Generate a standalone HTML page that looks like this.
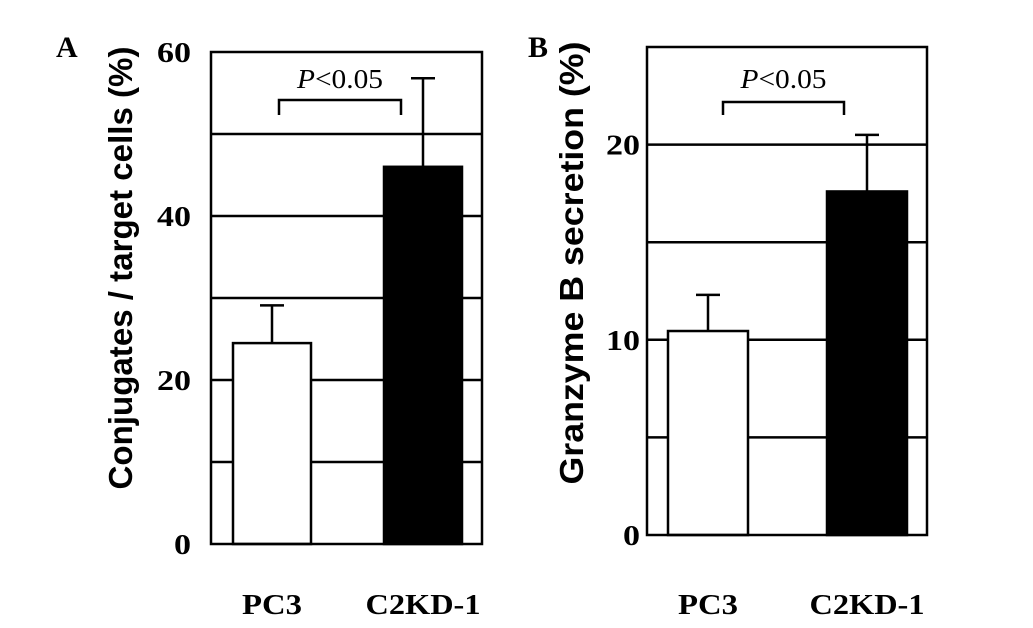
<!DOCTYPE html>
<html><head><meta charset="utf-8"><style>
html,body{margin:0;padding:0;background:#fff}
svg{display:block}
.t{font-family:"Liberation Serif",serif;font-weight:bold;font-size:28px;fill:#000}
.yt{font-family:"Liberation Sans",sans-serif;font-weight:bold;font-size:33px;fill:#000}
.p{font-family:"Liberation Serif",serif;font-size:27px;fill:#000}
</style></head><body>
<svg id="chart" width="1033" height="628" xmlns="http://www.w3.org/2000/svg"></svg>
<script>
const categories = ["PC3", "C2KD-1"];
const valuesA = [24.5, 46];
const errorsA = [4.6, 10.8];
const ticksA = [0, 20, 40, 60];
const gridA = [10, 20, 30, 40, 50];
const valuesB = [10.45, 17.6];
const errorsB = [1.85, 2.9];
const ticksB = [0, 10, 20];
const gridB = [5, 10, 15, 20];

const svg = document.getElementById('chart');
const NS = 'http://www.w3.org/2000/svg';
function mk(tag, attrs, parent){
  const e = document.createElementNS(NS, tag);
  for (const k in attrs) e.setAttribute(k, attrs[k]);
  (parent||svg).appendChild(e);
  return e;
}
function panel(cfg){
  const g = mk('g', {});
  
  
  const y = v => cfg.y0 - (v / cfg.max) * (cfg.y0 - cfg.top);
  cfg.grid.forEach(v => {
    const l = mk('line', {x1:cfg.left, x2:cfg.right, y1:y(v), y2:y(v), stroke:'#000', 'stroke-width':2.5}, g);
    
    
  });
  cfg.values.forEach((v, i) => {
    const bx = cfg.barX[i], bw = cfg.barW;
    const r = mk('rect', {x:bx, y:y(v), width:bw, height:cfg.y0 - y(v), fill: i===0?'#fff':'#000', stroke:'#000', 'stroke-width':2.5}, g);
    
    
    const cx = bx + bw/2, et = y(v + cfg.errors[i]);
    const e = mk('path', {d:`M${cx},${y(v)}V${et}M${cx-12},${et}H${cx+12}`, stroke:'#000', 'stroke-width':2.5, fill:'none'}, g);
    
    
    const t = mk('text', {x:cx, y:614, 'text-anchor':'middle', class:'t', textLength: i===0?60:115, lengthAdjust:'spacingAndGlyphs'}, g);
    t.textContent = categories[i];
    
    
  });
  const f = mk('rect', {x:cfg.left, y:cfg.top, width:cfg.right-cfg.left, height:cfg.y0-cfg.top, fill:'none', stroke:'#000', 'stroke-width':2.5}, g);
  
  
  cfg.ticks.forEach(v => {
    const s = String(v);
    const t = mk('text', {x:cfg.tickX, y:y(v) + 10, 'text-anchor':'end', class:'t', textLength: s.length*17, lengthAdjust:'spacingAndGlyphs'}, g);
    t.textContent = s;
    
    
  });
  const b = mk('path', {d:`M${cfg.br[0]},115V${cfg.br[2]}H${cfg.br[1]}V115`, stroke:'#000', 'stroke-width':2.5, fill:'none'}, g);
  
  
  const p = mk('text', {x:(cfg.br[0]+cfg.br[1])/2, y:88, 'text-anchor':'middle', class:'p', textLength:86, lengthAdjust:'spacingAndGlyphs'}, g);
  p.innerHTML = '<tspan font-style="italic">P</tspan>&lt;0.05';
  
  
  const yt = mk('text', {x:0, y:0, transform:`translate(${cfg.titleX},${cfg.titleY}) rotate(-90)`, 'text-anchor':'middle', class:'yt', textLength:443, lengthAdjust:'spacingAndGlyphs'}, g);
  yt.textContent = cfg.title;
  
  
  const pl = mk('text', {x:cfg.letterX, y:57, class:'t', style:'font-size:30px'}, g);
  pl.textContent = cfg.letter;
  
  
}
panel({name:'panel-a', left:211, right:482, top:52, y0:544, max:60, grid:gridA, ticks:ticksA,
  values:valuesA, errors:errorsA, barX:[233,384], barW:78, tickX:191, br:[279,401,100],
  title:'Conjugates / target cells (%)', titleX:132, titleY:268, letter:'A', letterX:56});
panel({name:'panel-b', left:647, right:927, top:47, y0:535, max:25, grid:gridB, ticks:ticksB,
  values:valuesB, errors:errorsB, barX:[668,827], barW:80, tickX:640, br:[723,844,102],
  title:'Granzyme B secretion (%)', titleX:583, titleY:263, letter:'B', letterX:528});
</script>
</body></html>
